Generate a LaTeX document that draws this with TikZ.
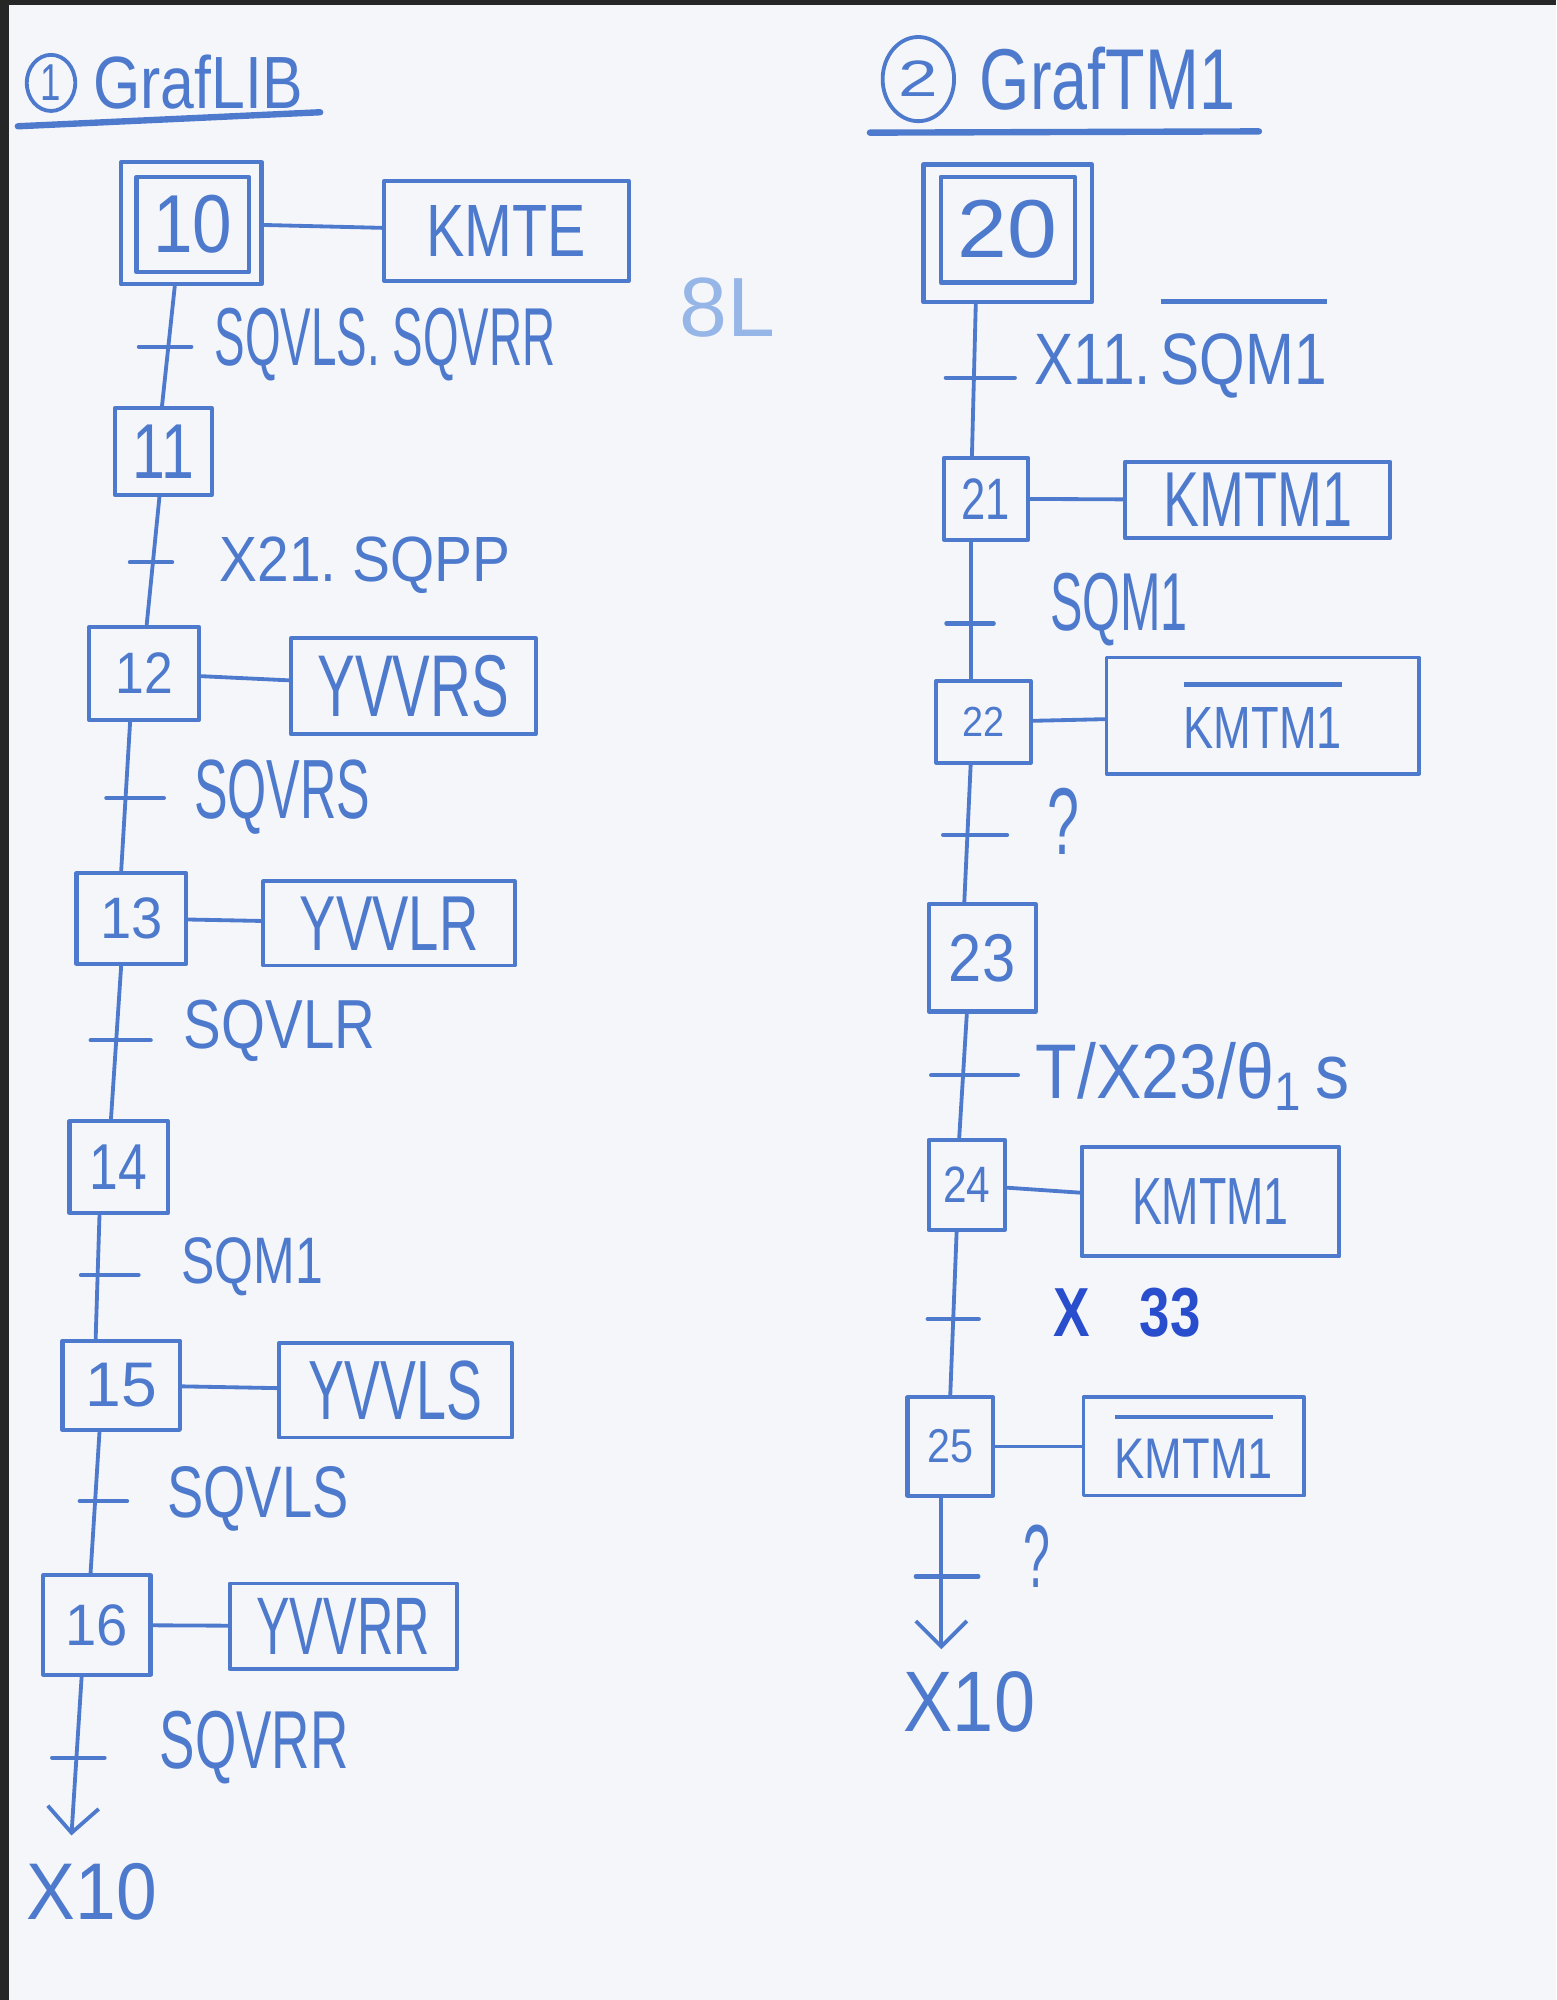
\documentclass[tikz,border=0pt]{standalone}
\usepackage{fontspec}
\setmainfont{Liberation Sans}
\usepackage{graphicx}
\usetikzlibrary{arrows.meta,calc,shapes.geometric}
\definecolor{pen}{RGB}{78,122,205}
\definecolor{pendark}{RGB}{40,78,205}
\definecolor{paper}{RGB}{245,246,250}
\definecolor{ghost}{RGB}{110,155,225}
\newcommand\hw[3]{\resizebox{#1pt}{#2pt}{#3}}
\newsavebox\ovlbox
\newcommand\ovl[2][0.35em]{\sbox\ovlbox{#2}\vbox{\hrule height 0.075em width\wd\ovlbox\kern#1\box\ovlbox}}
\begin{document}
\begin{tikzpicture}[x=1pt,y=-1pt,line cap=round,line join=round,
  stepbox/.style={draw=pen,line width=3.2pt,inner sep=0pt,text=pen},
  actbox/.style={draw=pen,line width=3pt,inner sep=0pt,text=pen},
  lbl/.style={text=pen,inner sep=0pt,anchor=west},
  plain/.style={text=pen,inner sep=0pt},
  link/.style={draw=pen,line width=3pt},
  flow/.style={draw=pen,line width=3pt},
  tickmark/.style={draw=pen,line width=3.4pt},
  titlerule/.style={draw=pen,line width=5pt},
  endarrow/.style={-{Straight Barb[length=20pt,width=40pt]}}]
\useasboundingbox (0,0) rectangle (1220,1568);
\fill[paper] (0,0) rectangle (1220,1568);
\fill[black!85] (0,0) rectangle (7,1568);
\fill[black!85] (0,0) rectangle (1220,4);

% bleed-through from the back of the sheet
\node[text=ghost,opacity=0.7,inner sep=0pt] (ghost) at (570,241) {\hw{75}{46}{8L}};

% ===== Titles =====
\node[draw=pen,line width=3pt,ellipse,minimum width=38,minimum height=44,inner sep=0pt,text=pen] (n1) at (40,65) {\hw{16}{28}{1}};
\node[lbl] (t1) at (73,64) {\hw{164}{42}{GrafLIB}};
\draw[titlerule] (14,99) -- (251,88);

\node[draw=pen,line width=3pt,ellipse,minimum width=56,minimum height=66,inner sep=0pt,text=pen] (n2) at (720,62) {\hw{31}{28}{2}};
\node[lbl] (t2) at (768,62) {\hw{200}{49}{GrafTM1}};
\draw[titlerule] (682,104) -- (987,103);

% ===== GrafLIB =====
\node[stepbox,minimum width=110,minimum height=96] (s10) at (150,175) {};
\node[stepbox,minimum width=88,minimum height=75] (s10i) at (151,176) {\hw{62}{45}{10}};
\node[actbox,minimum width=192,minimum height=78] (a10) at (397,181) {\hw{125}{40}{KMTE}};
\node[stepbox,minimum width=76,minimum height=68] (s11) at (128,354) {\hw{48}{42}{11}};
\node[stepbox,minimum width=86,minimum height=73] (s12) at (113,528) {\hw{45}{32}{12}};
\node[actbox,minimum width=192,minimum height=75] (a12) at (324,538) {\hw{150}{48}{YVVRS}};
\node[stepbox,minimum width=86,minimum height=71] (s13) at (103,720) {\hw{49}{32}{13}};
\node[actbox,minimum width=197,minimum height=66] (a13) at (305,724) {\hw{140}{42}{YVVLR}};
\node[stepbox,minimum width=77,minimum height=72] (s14) at (93,915) {\hw{45}{35}{14}};
\node[stepbox,minimum width=92,minimum height=70] (s15) at (95,1086) {\hw{56}{34}{15}};
\node[actbox,minimum width=183,minimum height=74] (a15) at (310,1090) {\hw{136}{46}{YVVLS}};
\node[stepbox,minimum width=84,minimum height=78] (s16) at (76,1274) {\hw{49}{32}{16}};
\node[actbox,minimum width=178,minimum height=67] (a16) at (269,1275) {\hw{136}{44}{YVVRR}};
\coordinate (e1) at (56,1439);
\node[plain] (x10a) at (72,1483) {\hw{102}{44}{X10}};

\draw[link] (s10) -- (a10);
\draw[link] (s12) -- (a12);
\draw[link] (s13) -- (a13);
\draw[link] (s15) -- (a15);
\draw[link] (s16) -- (a16);

\draw[flow] ([xshift=-13pt]s10.south) -- coordinate[pos=0.505] (k1) ([xshift=-1pt]s11.north);
\draw[flow] ([xshift=-3pt]s11.south) -- coordinate[pos=0.51] (k2) ([xshift=2pt]s12.north);
\draw[flow] ([xshift=-11pt]s12.south) -- coordinate[pos=0.51] (k3) ([xshift=-8pt]s13.north);
\draw[flow] ([xshift=-8pt]s13.south) -- coordinate[pos=0.486] (k4) ([xshift=-6pt]s14.north);
\draw[flow] ([xshift=-15pt]s14.south) -- coordinate[pos=0.485] (k5) ([xshift=-20pt]s15.north);
\draw[flow] ([xshift=-17pt]s15.south) -- coordinate[pos=0.49] (k6) ([xshift=-5pt]s16.north);
\draw[flow,endarrow] ([xshift=-12pt]s16.south) -- coordinate[pos=0.51] (k7) (e1);

\draw[tickmark] ([xshift=-23pt]k1) -- ([xshift=18pt]k1);
\draw[tickmark] ([xshift=-18pt]k2) -- ([xshift=15pt]k2);
\draw[tickmark] ([xshift=-15pt]k3) -- ([xshift=30pt]k3);
\draw[tickmark] ([xshift=-20pt]k4) -- ([xshift=27pt]k4);
\draw[tickmark] ([xshift=-13pt]k5) -- ([xshift=32pt]k5);
\draw[tickmark] ([xshift=-12pt]k6) -- ([xshift=25pt]k6);
\draw[tickmark] ([xshift=-19pt]k7) -- ([xshift=22pt]k7);

\node[lbl] (c1) at (168,270) {\hw{267}{45}{SQVLS.\ SQVRR}};
\node[lbl] (c2) at (172,443) {\hw{228}{35}{X21.\ SQPP}};
\node[lbl] (c3) at (152,625) {\hw{138}{46}{SQVRS}};
\node[lbl] (c4) at (144,808) {\hw{150}{38}{SQVLR}};
\node[lbl] (c5) at (142,993) {\hw{111}{36}{SQM1}};
\node[lbl] (c6) at (131,1175) {\hw{142}{40}{SQVLS}};
\node[lbl] (c7) at (125,1370) {\hw{148}{45}{SQVRR}};

% ===== GrafTM1 =====
\node[stepbox,minimum width=132,minimum height=108] (s20) at (790,183) {};
\node[stepbox,minimum width=105,minimum height=83] (s20i) at (790,180) {\hw{78}{45}{20}};
\node[stepbox,minimum width=66,minimum height=64] (s21) at (773,391) {\hw{38}{32}{21}};
\node[actbox,minimum width=208,minimum height=60] (a21) at (986,392) {\hw{148}{42}{KMTM1}};
\node[stepbox,minimum width=74,minimum height=64] (s22) at (771,566) {\hw{33}{23}{22}};
\node[actbox,minimum width=245,minimum height=91] (a22) at (990,561) {\hw{124}{52}{\ovl{KMTM1}}\hspace{54pt}};
\node[stepbox,minimum width=84,minimum height=84] (s23) at (770,751) {\hw{52}{37}{23}};
\node[stepbox,minimum width=60,minimum height=70] (s24) at (758,929) {\hw{37}{28}{24}};
\node[actbox,minimum width=202,minimum height=86] (a24) at (949,942) {\hw{123}{36}{KMTM1}};
\node[stepbox,minimum width=67,minimum height=77] (s25) at (745,1134) {\hw{36}{26}{25}};
\node[actbox,minimum width=173,minimum height=77] (a25) at (936,1134) {\hw{124}{50}{\ovl{KMTM1}}};
\coordinate (e2) at (738,1293);
\node[plain] (x10b) at (760,1334) {\hw{103}{47}{X10}};

\draw[link] (s21) -- (a21);
\draw[link] (s22) -- (a22);
\draw[link] (s24) -- (a24);
\draw[link] (s25) -- (a25);

\draw[flow] ([xshift=-25pt]s20.south) -- coordinate[pos=0.484] (r1) ([xshift=-11pt]s21.north);
\draw[flow] ([xshift=-12pt]s21.south) -- coordinate[pos=0.595] (r2) ([xshift=-10pt]s22.north);
\draw[flow] ([xshift=-10pt]s22.south) -- coordinate[pos=0.51] (r3) ([xshift=-14pt]s23.north);
\draw[flow] ([xshift=-12pt]s23.south) -- coordinate[pos=0.495] (r4) ([xshift=-6pt]s24.north);
\draw[flow] ([xshift=-8pt]s24.south) -- coordinate[pos=0.534] (r5) (s25.north);
\draw[flow,endarrow] ([xshift=-7pt]s25.south) -- coordinate[pos=0.52] (r6) (e2);

\draw[tickmark] ([xshift=-22pt]r1) -- ([xshift=32pt]r1);
\draw[tickmark] ([xshift=-19pt]r2) -- ([xshift=18pt]r2);
\draw[tickmark] ([xshift=-19pt]r3) -- ([xshift=31pt]r3);
\draw[tickmark] ([xshift=-25pt]r4) -- ([xshift=43pt]r4);
\draw[tickmark] ([xshift=-20pt]r5) -- ([xshift=20pt]r5);
\draw[tickmark] ([xshift=-20pt]r6) -- ([xshift=29pt]r6);

\node[lbl] (d1) at (811,273) {\hw{229}{67}{X11.\,\ovl[0.4em]{SQM1}}};
\node[lbl] (d2) at (823,478) {\hw{108}{45}{SQM1}};
\node[lbl] (d3) at (821,644) {\hw{25}{52}{?}};
\node[lbl] (d4) at (812,844) {\hw{246}{44}{T/X23/θ\textsubscript{1}\,s}};
\node[lbl,text=pendark] (d5) at (826,1029) {\hw{115}{38}{\bfseries X\hspace{0.9em}33}};
\node[lbl] (d6) at (802,1220) {\hw{21}{49}{?}};
\end{tikzpicture}
\end{document}
